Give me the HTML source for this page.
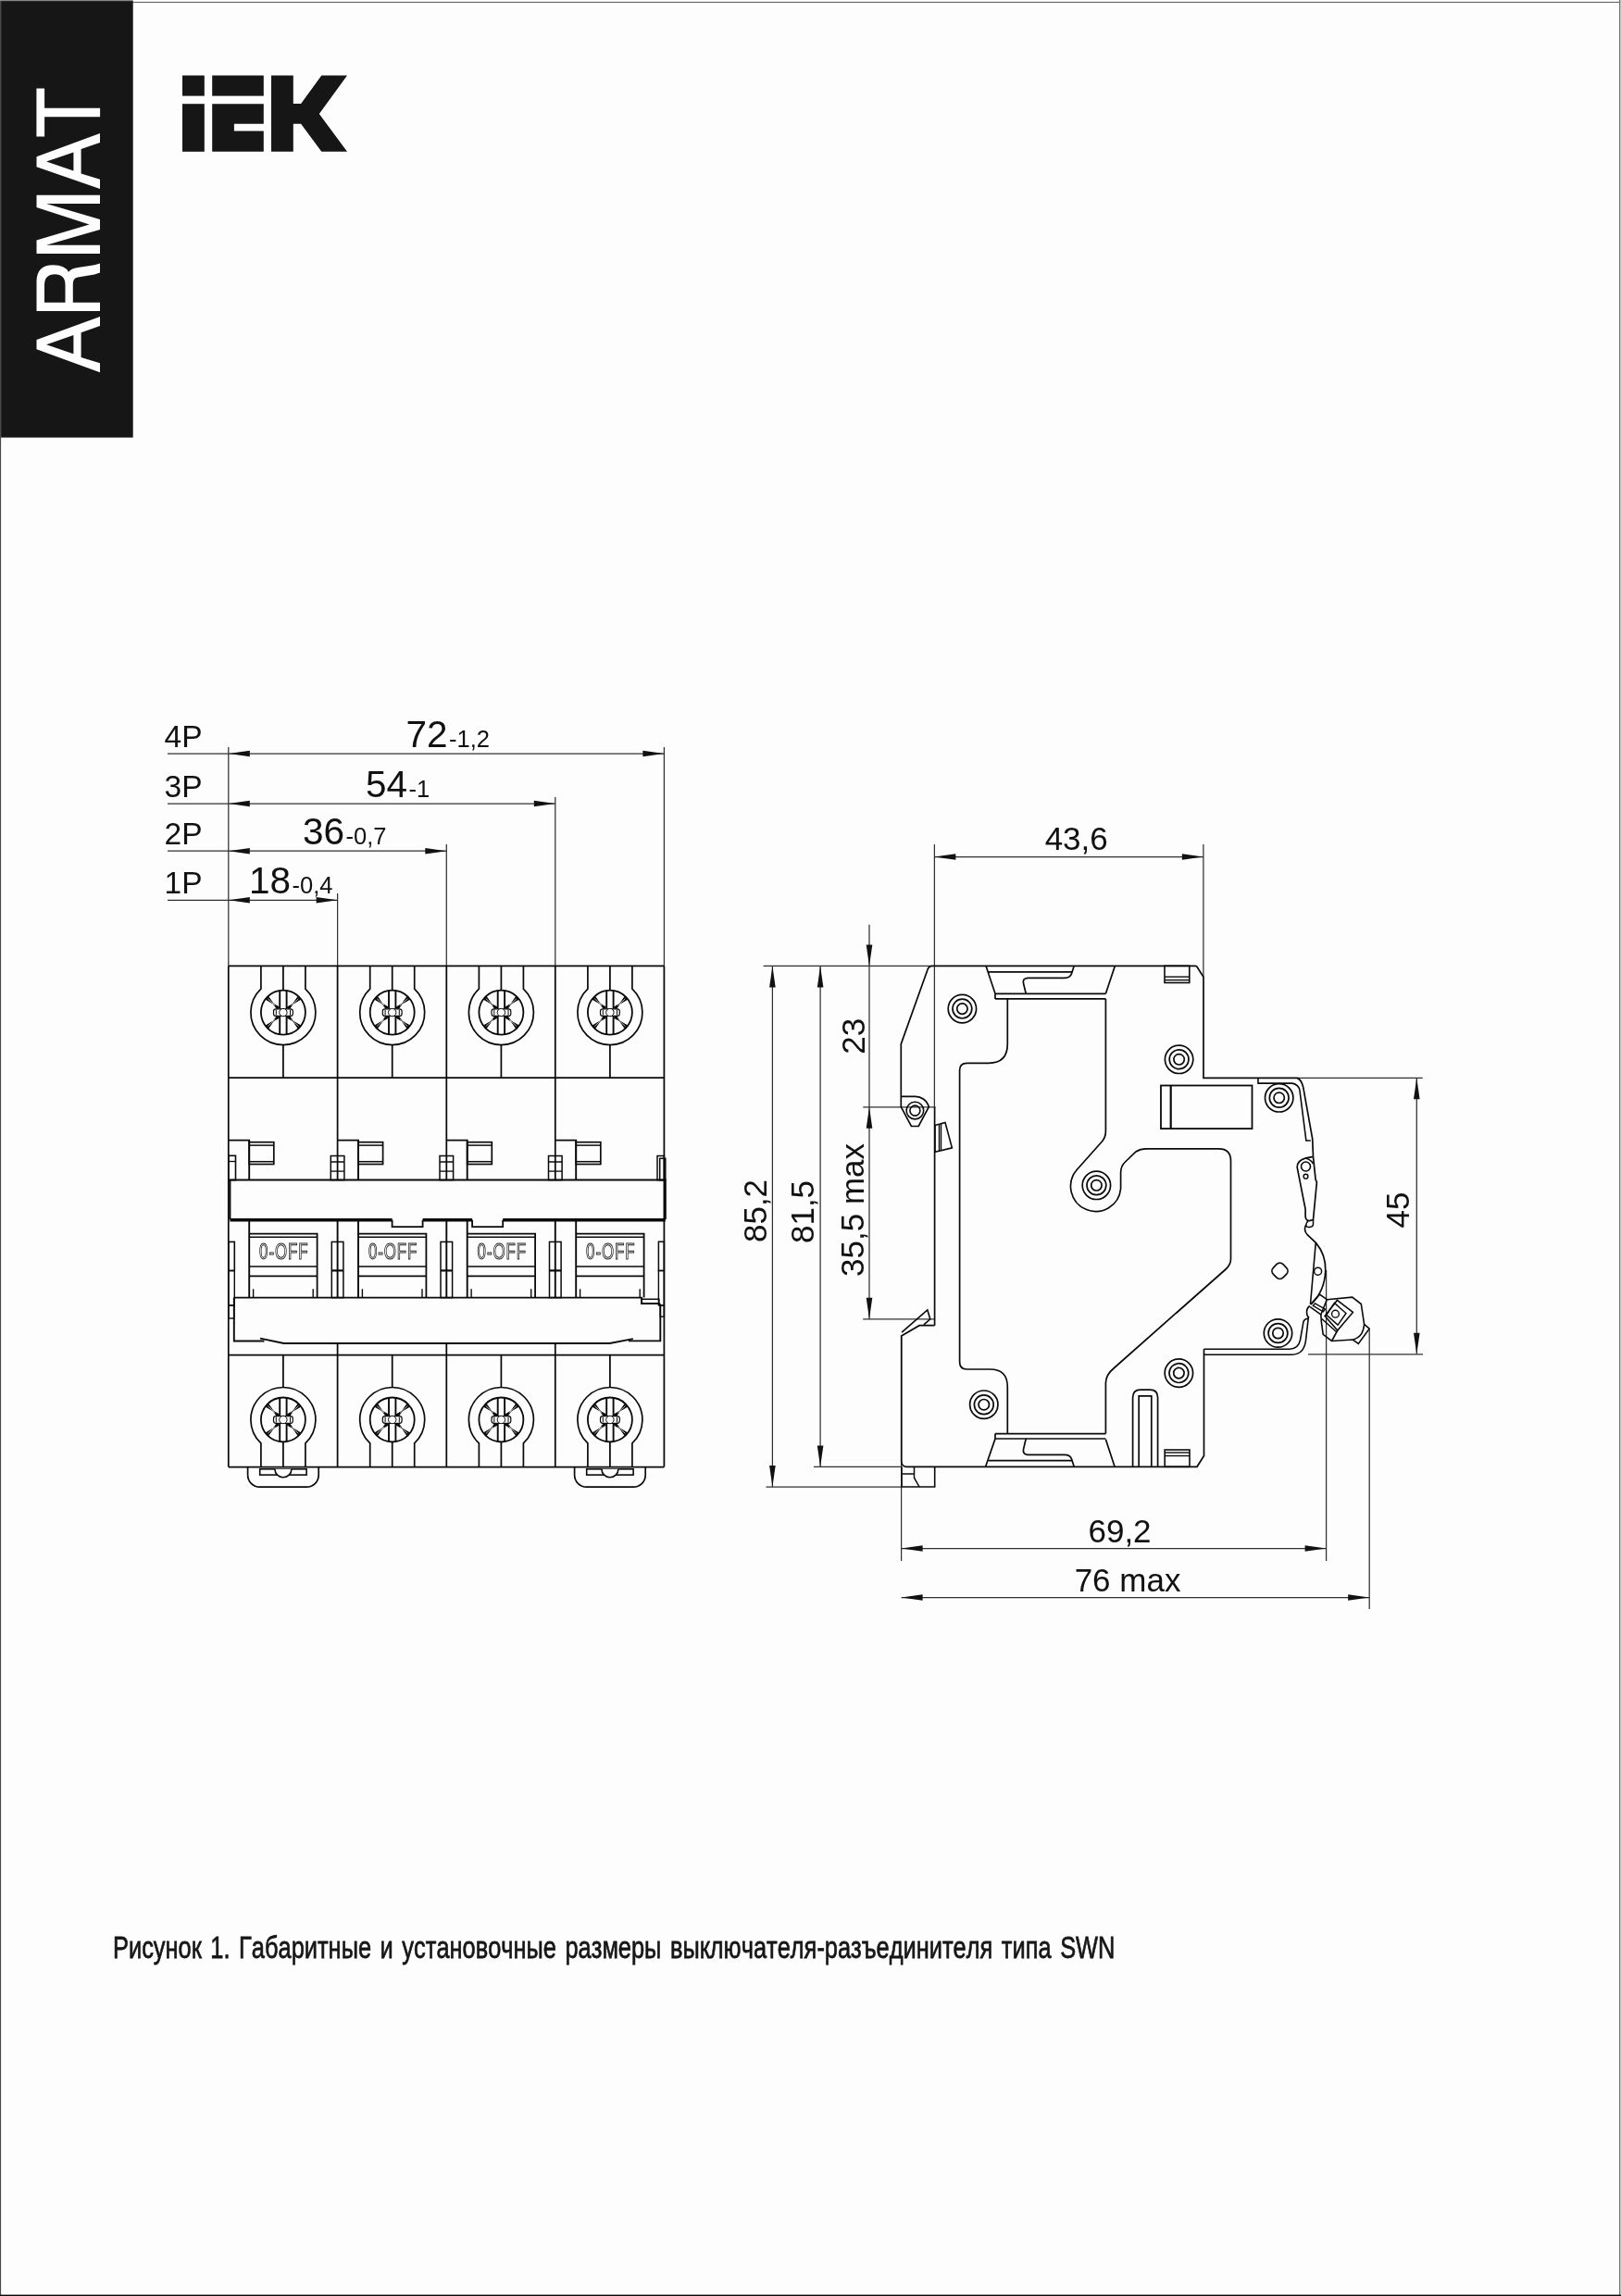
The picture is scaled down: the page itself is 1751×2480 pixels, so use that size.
<!DOCTYPE html>
<html><head><meta charset="utf-8"><style>
html,body{margin:0;padding:0;background:#fdfdfd;}
svg{display:block;font-family:"Liberation Sans",sans-serif;}
text{font-kerning:none;font-variant-ligatures:none;}
svg{will-change:transform;}
</style></head><body>
<svg width="1751" height="2480" viewBox="0 0 1751 2480">
<rect x="0" y="0" width="1751" height="2480" fill="#fdfdfd"/>
<rect x="0" y="1.9" width="1751" height="1.1" fill="#666"/>
<rect x="0" y="0" width="1.1" height="2480" fill="#4a4a4a"/>
<rect x="1749" y="0" width="1.2" height="2480" fill="#777"/>
<rect x="1750.2" y="0" width="0.8" height="2480" fill="#bbb"/>
<rect x="0" y="2478.6" width="1751" height="1.4" fill="#0a0a0a"/>
<rect x="0" y="0" width="143.7" height="1.1" fill="#888"/>
<rect x="1.1" y="1.1" width="142.6" height="471.5" fill="#161616"/>
<g aria-label="ARMAT"><title>ARMAT</title>
<path d="M39.5 366.9 L108 342 L108 352 L87.6 359.3 L87.6 385.9 L108 392.3 L108 402.3 L39.5 377.3 Z M50.1 372.2 L79.4 362.1 L79.4 382.2 Z" fill="#fdfdfd" fill-rule="evenodd"/>
<path d="M39.5 335.9 L108 335.9 L108 326.7 L78.8 326.7 L78.8 306.6 Q78.8 300.5 84 299.4 L102 296.6 L108 294.4 L108 284.6 L102 286.3 L84 288.9 Q76.5 290 73.9 293.8 Q70.5 286.2 57.4 286.2 Q39.5 286.2 39.5 304 Z M48 326.7 L70.5 326.7 L70.5 308 Q70.5 296.2 59.3 296.2 Q48 296.2 48 308 Z" fill="#fdfdfd" fill-rule="evenodd"/>
<path d="M39.5 274.1 L108 274.1 L108 264.7 L50.1 264.7 L108 247.9 L108 236.9 L50.1 219.9 L108 219.9 L108 210.7 L39.5 210.7 L39.5 224.1 L96.5 242.4 L39.5 259.5 Z" fill="#fdfdfd" fill-rule="evenodd"/>
<path d="M39.5 169.3 L108 144 L108 154 L87.6 161 L87.6 187.6 L108 193.7 L108 204 L39.5 180.2 Z M50.1 174.5 L79.4 164.4 L79.4 184.5 Z" fill="#fdfdfd" fill-rule="evenodd"/>
<path d="M39.4 95.5 L48.1 95.5 L48.1 116.7 L108.1 116.7 L108.1 126.2 L48.1 126.2 L48.1 147.4 L39.4 147.4 Z" fill="#fdfdfd" fill-rule="evenodd"/>
</g>
<g aria-label="IEK"><title>IEK</title>
<rect x="197" y="81.5" width="23.8" height="22.1" rx="0" stroke="#0a0a0a" stroke-width="0" fill="#161616"/>
<rect x="197" y="112.2" width="23.8" height="51.6" rx="0" stroke="#0a0a0a" stroke-width="0" fill="#161616"/>
<rect x="229.2" y="81.5" width="55.6" height="22.1" rx="0" stroke="#0a0a0a" stroke-width="0" fill="#161616"/>
<path d="M229.2 112.2 L284.8 112.2 L284.8 133.8 L252.9 133.8 L252.9 141.6 L284.8 141.6 L284.8 163.8 L229.2 163.8 Z" stroke="#0a0a0a" stroke-width="0" fill="#161616"/>
<path d="M293 81.5 L316.8 81.5 L316.8 112 L325.1 112 L347.3 81.5 L375 81.5 L344.8 123.1 L375 163.8 L347.3 163.8 L325.1 133.8 L316.8 133.8 L316.8 163.8 L293 163.8 Z" stroke="#0a0a0a" stroke-width="0" fill="#161616"/>
</g>
<text transform="translate(122 2115.2) scale(0.747561 1)" x="0" y="0" font-size="34" fill="#161616" stroke="#161616" stroke-width="0.75" word-spacing="3.344208">Рисунок 1. Габаритные и установочные размеры выключателя-разъединителя типа SWN</text>
<line x1="246.8" y1="807" x2="246.8" y2="1043" stroke="#303030" stroke-width="1.25"/>
<line x1="364.6" y1="965" x2="364.6" y2="1043" stroke="#303030" stroke-width="1.25"/>
<line x1="482.3" y1="912" x2="482.3" y2="1043" stroke="#303030" stroke-width="1.25"/>
<line x1="599.8" y1="861" x2="599.8" y2="1043" stroke="#303030" stroke-width="1.25"/>
<line x1="717.4" y1="807" x2="717.4" y2="1043" stroke="#303030" stroke-width="1.25"/>
<line x1="181" y1="814" x2="717.4" y2="814" stroke="#303030" stroke-width="1.25"/>
<path d="M246.8 814 L269.8 810.7 L269.8 817.3 Z" fill="#111"/>
<path d="M717.4 814 L694.4 817.3 L694.4 810.7 Z" fill="#111"/>
<line x1="181" y1="868" x2="599.8" y2="868" stroke="#303030" stroke-width="1.25"/>
<path d="M246.8 868 L269.8 864.7 L269.8 871.3 Z" fill="#111"/>
<path d="M599.8 868 L576.8 871.3 L576.8 864.7 Z" fill="#111"/>
<line x1="181" y1="919.2" x2="482.3" y2="919.2" stroke="#303030" stroke-width="1.25"/>
<path d="M246.8 919.2 L269.8 915.9 L269.8 922.5 Z" fill="#111"/>
<path d="M482.3 919.2 L459.3 922.5 L459.3 915.9 Z" fill="#111"/>
<line x1="181" y1="972.3" x2="364.6" y2="972.3" stroke="#303030" stroke-width="1.25"/>
<path d="M246.8 972.3 L269.8 969 L269.8 975.6 Z" fill="#111"/>
<path d="M364.6 972.3 L341.6 975.6 L341.6 969 Z" fill="#111"/>
<text transform="translate(177.5 807)" x="0" y="0" font-size="33.5" fill="#111">4P</text>
<text transform="translate(177.5 860.7)" x="0" y="0" font-size="33.5" fill="#111">3P</text>
<text transform="translate(177.5 912)" x="0" y="0" font-size="33.5" fill="#111">2P</text>
<text transform="translate(177.5 965)" x="0" y="0" font-size="33.5" fill="#111">1P</text>
<text transform="translate(438.5 807)" x="0" y="0" font-size="40.5" fill="#111">72</text>
<text transform="translate(485.05 807)" x="0" y="0" font-size="25.5" fill="#111">-1,2</text>
<text transform="translate(395 860.7)" x="0" y="0" font-size="40.5" fill="#111">54</text>
<text transform="translate(441.55 860.7)" x="0" y="0" font-size="25.5" fill="#111">-1</text>
<text transform="translate(327 912)" x="0" y="0" font-size="40.5" fill="#111">36</text>
<text transform="translate(373.55 912)" x="0" y="0" font-size="25.5" fill="#111">-0,7</text>
<text transform="translate(269 965)" x="0" y="0" font-size="40.5" fill="#111">18</text>
<text transform="translate(315.55 965)" x="0" y="0" font-size="25.5" fill="#111">-0,4</text>
<line x1="246.8" y1="1043.3" x2="246.8" y2="1584.5" stroke="#0a0a0a" stroke-width="1.75"/>
<line x1="717.4" y1="1043.3" x2="717.4" y2="1584.5" stroke="#0a0a0a" stroke-width="1.75"/>
<line x1="246.8" y1="1043.3" x2="717.4" y2="1043.3" stroke="#0a0a0a" stroke-width="1.75"/>
<line x1="246.8" y1="1164.2" x2="717.4" y2="1164.2" stroke="#0a0a0a" stroke-width="1.75"/>
<line x1="364.6" y1="1043.3" x2="364.6" y2="1274.6" stroke="#0a0a0a" stroke-width="1.75"/>
<line x1="482.3" y1="1043.3" x2="482.3" y2="1274.6" stroke="#0a0a0a" stroke-width="1.75"/>
<line x1="599.8" y1="1043.3" x2="599.8" y2="1274.6" stroke="#0a0a0a" stroke-width="1.75"/>
<path d="M281.9 1043.3 L281.9 1068.12 A35 35 0 1 0 329.9 1068.12 L329.9 1043.3" stroke="#0a0a0a" stroke-width="1.7" fill="none"/>
<line x1="305.9" y1="1043.3" x2="305.9" y2="1069.6" stroke="#0a0a0a" stroke-width="1.75"/>
<line x1="305.9" y1="1128.6" x2="305.9" y2="1164.2" stroke="#0a0a0a" stroke-width="1.75"/>
<circle cx="305.9" cy="1093.6" r="24" stroke="#0a0a0a" stroke-width="1.8" fill="none"/>
<line x1="302.2" y1="1070.1" x2="302.2" y2="1117.1" stroke="#0a0a0a" stroke-width="1.9"/>
<line x1="309.6" y1="1070.1" x2="309.6" y2="1117.1" stroke="#0a0a0a" stroke-width="1.9"/>
<path d="M286.69 1079.21 L301.7 1088 L299.3 1090 L289.58 1076 Z" stroke="#0a0a0a" stroke-width="1.0" fill="#0a0a0a"/>
<line x1="289.37" y1="1078.75" x2="297.41" y2="1086.15" stroke="#fdfdfd" stroke-width="0.7"/>
<path d="M286.69 1107.99 L301.7 1099.2 L299.3 1097.2 L289.58 1111.2 Z" stroke="#0a0a0a" stroke-width="1.0" fill="#0a0a0a"/>
<line x1="289.37" y1="1108.45" x2="297.41" y2="1101.05" stroke="#fdfdfd" stroke-width="0.7"/>
<path d="M325.11 1079.21 L310.1 1088 L312.5 1090 L322.22 1076 Z" stroke="#0a0a0a" stroke-width="1.0" fill="#0a0a0a"/>
<line x1="322.43" y1="1078.75" x2="314.39" y2="1086.15" stroke="#fdfdfd" stroke-width="0.7"/>
<path d="M325.11 1107.99 L310.1 1099.2 L312.5 1097.2 L322.22 1111.2 Z" stroke="#0a0a0a" stroke-width="1.0" fill="#0a0a0a"/>
<line x1="322.43" y1="1108.45" x2="314.39" y2="1101.05" stroke="#fdfdfd" stroke-width="0.7"/>
<rect x="295.5" y="1089.8" width="20.8" height="7.6" rx="2.5" stroke="#0a0a0a" stroke-width="1.2" fill="#fdfdfd"/>
<path d="M298.3 1090.6 L298.3 1096.6 M313.5 1090.6 L313.5 1096.6" stroke="#0a0a0a" stroke-width="1.0" fill="none"/>
<circle cx="305.9" cy="1093.6" r="4.2" stroke="#0a0a0a" stroke-width="1.0" fill="#fdfdfd"/>
<path d="M399.7 1043.3 L399.7 1068.12 A35 35 0 1 0 447.7 1068.12 L447.7 1043.3" stroke="#0a0a0a" stroke-width="1.7" fill="none"/>
<line x1="423.7" y1="1043.3" x2="423.7" y2="1069.6" stroke="#0a0a0a" stroke-width="1.75"/>
<line x1="423.7" y1="1128.6" x2="423.7" y2="1164.2" stroke="#0a0a0a" stroke-width="1.75"/>
<circle cx="423.7" cy="1093.6" r="24" stroke="#0a0a0a" stroke-width="1.8" fill="none"/>
<line x1="420" y1="1070.1" x2="420" y2="1117.1" stroke="#0a0a0a" stroke-width="1.9"/>
<line x1="427.4" y1="1070.1" x2="427.4" y2="1117.1" stroke="#0a0a0a" stroke-width="1.9"/>
<path d="M404.49 1079.21 L419.5 1088 L417.1 1090 L407.38 1076 Z" stroke="#0a0a0a" stroke-width="1.0" fill="#0a0a0a"/>
<line x1="407.17" y1="1078.75" x2="415.21" y2="1086.15" stroke="#fdfdfd" stroke-width="0.7"/>
<path d="M404.49 1107.99 L419.5 1099.2 L417.1 1097.2 L407.38 1111.2 Z" stroke="#0a0a0a" stroke-width="1.0" fill="#0a0a0a"/>
<line x1="407.17" y1="1108.45" x2="415.21" y2="1101.05" stroke="#fdfdfd" stroke-width="0.7"/>
<path d="M442.91 1079.21 L427.9 1088 L430.3 1090 L440.02 1076 Z" stroke="#0a0a0a" stroke-width="1.0" fill="#0a0a0a"/>
<line x1="440.23" y1="1078.75" x2="432.19" y2="1086.15" stroke="#fdfdfd" stroke-width="0.7"/>
<path d="M442.91 1107.99 L427.9 1099.2 L430.3 1097.2 L440.02 1111.2 Z" stroke="#0a0a0a" stroke-width="1.0" fill="#0a0a0a"/>
<line x1="440.23" y1="1108.45" x2="432.19" y2="1101.05" stroke="#fdfdfd" stroke-width="0.7"/>
<rect x="413.3" y="1089.8" width="20.8" height="7.6" rx="2.5" stroke="#0a0a0a" stroke-width="1.2" fill="#fdfdfd"/>
<path d="M416.1 1090.6 L416.1 1096.6 M431.3 1090.6 L431.3 1096.6" stroke="#0a0a0a" stroke-width="1.0" fill="none"/>
<circle cx="423.7" cy="1093.6" r="4.2" stroke="#0a0a0a" stroke-width="1.0" fill="#fdfdfd"/>
<path d="M517.4 1043.3 L517.4 1068.12 A35 35 0 1 0 565.4 1068.12 L565.4 1043.3" stroke="#0a0a0a" stroke-width="1.7" fill="none"/>
<line x1="541.4" y1="1043.3" x2="541.4" y2="1069.6" stroke="#0a0a0a" stroke-width="1.75"/>
<line x1="541.4" y1="1128.6" x2="541.4" y2="1164.2" stroke="#0a0a0a" stroke-width="1.75"/>
<circle cx="541.4" cy="1093.6" r="24" stroke="#0a0a0a" stroke-width="1.8" fill="none"/>
<line x1="537.7" y1="1070.1" x2="537.7" y2="1117.1" stroke="#0a0a0a" stroke-width="1.9"/>
<line x1="545.1" y1="1070.1" x2="545.1" y2="1117.1" stroke="#0a0a0a" stroke-width="1.9"/>
<path d="M522.19 1079.21 L537.2 1088 L534.8 1090 L525.08 1076 Z" stroke="#0a0a0a" stroke-width="1.0" fill="#0a0a0a"/>
<line x1="524.87" y1="1078.75" x2="532.91" y2="1086.15" stroke="#fdfdfd" stroke-width="0.7"/>
<path d="M522.19 1107.99 L537.2 1099.2 L534.8 1097.2 L525.08 1111.2 Z" stroke="#0a0a0a" stroke-width="1.0" fill="#0a0a0a"/>
<line x1="524.87" y1="1108.45" x2="532.91" y2="1101.05" stroke="#fdfdfd" stroke-width="0.7"/>
<path d="M560.61 1079.21 L545.6 1088 L548 1090 L557.72 1076 Z" stroke="#0a0a0a" stroke-width="1.0" fill="#0a0a0a"/>
<line x1="557.93" y1="1078.75" x2="549.89" y2="1086.15" stroke="#fdfdfd" stroke-width="0.7"/>
<path d="M560.61 1107.99 L545.6 1099.2 L548 1097.2 L557.72 1111.2 Z" stroke="#0a0a0a" stroke-width="1.0" fill="#0a0a0a"/>
<line x1="557.93" y1="1108.45" x2="549.89" y2="1101.05" stroke="#fdfdfd" stroke-width="0.7"/>
<rect x="531" y="1089.8" width="20.8" height="7.6" rx="2.5" stroke="#0a0a0a" stroke-width="1.2" fill="#fdfdfd"/>
<path d="M533.8 1090.6 L533.8 1096.6 M549 1090.6 L549 1096.6" stroke="#0a0a0a" stroke-width="1.0" fill="none"/>
<circle cx="541.4" cy="1093.6" r="4.2" stroke="#0a0a0a" stroke-width="1.0" fill="#fdfdfd"/>
<path d="M634.9 1043.3 L634.9 1068.12 A35 35 0 1 0 682.9 1068.12 L682.9 1043.3" stroke="#0a0a0a" stroke-width="1.7" fill="none"/>
<line x1="658.9" y1="1043.3" x2="658.9" y2="1069.6" stroke="#0a0a0a" stroke-width="1.75"/>
<line x1="658.9" y1="1128.6" x2="658.9" y2="1164.2" stroke="#0a0a0a" stroke-width="1.75"/>
<circle cx="658.9" cy="1093.6" r="24" stroke="#0a0a0a" stroke-width="1.8" fill="none"/>
<line x1="655.2" y1="1070.1" x2="655.2" y2="1117.1" stroke="#0a0a0a" stroke-width="1.9"/>
<line x1="662.6" y1="1070.1" x2="662.6" y2="1117.1" stroke="#0a0a0a" stroke-width="1.9"/>
<path d="M639.69 1079.21 L654.7 1088 L652.3 1090 L642.58 1076 Z" stroke="#0a0a0a" stroke-width="1.0" fill="#0a0a0a"/>
<line x1="642.37" y1="1078.75" x2="650.41" y2="1086.15" stroke="#fdfdfd" stroke-width="0.7"/>
<path d="M639.69 1107.99 L654.7 1099.2 L652.3 1097.2 L642.58 1111.2 Z" stroke="#0a0a0a" stroke-width="1.0" fill="#0a0a0a"/>
<line x1="642.37" y1="1108.45" x2="650.41" y2="1101.05" stroke="#fdfdfd" stroke-width="0.7"/>
<path d="M678.11 1079.21 L663.1 1088 L665.5 1090 L675.22 1076 Z" stroke="#0a0a0a" stroke-width="1.0" fill="#0a0a0a"/>
<line x1="675.43" y1="1078.75" x2="667.39" y2="1086.15" stroke="#fdfdfd" stroke-width="0.7"/>
<path d="M678.11 1107.99 L663.1 1099.2 L665.5 1097.2 L675.22 1111.2 Z" stroke="#0a0a0a" stroke-width="1.0" fill="#0a0a0a"/>
<line x1="675.43" y1="1108.45" x2="667.39" y2="1101.05" stroke="#fdfdfd" stroke-width="0.7"/>
<rect x="648.5" y="1089.8" width="20.8" height="7.6" rx="2.5" stroke="#0a0a0a" stroke-width="1.2" fill="#fdfdfd"/>
<path d="M651.3 1090.6 L651.3 1096.6 M666.5 1090.6 L666.5 1096.6" stroke="#0a0a0a" stroke-width="1.0" fill="none"/>
<circle cx="658.9" cy="1093.6" r="4.2" stroke="#0a0a0a" stroke-width="1.0" fill="#fdfdfd"/>
<path d="M246.8 1231.6 L269.2 1231.6 L269.2 1274.6" stroke="#0a0a0a" stroke-width="1.9" fill="none"/>
<rect x="269.2" y="1233.7" width="26.6" height="23.8" rx="0" stroke="#0a0a0a" stroke-width="1.7" fill="none"/>
<line x1="269.2" y1="1237.1" x2="295.8" y2="1237.1" stroke="#0a0a0a" stroke-width="1.5"/>
<line x1="269.2" y1="1254.7" x2="295.8" y2="1254.7" stroke="#0a0a0a" stroke-width="1.5"/>
<path d="M364.6 1231.6 L387 1231.6 L387 1274.6" stroke="#0a0a0a" stroke-width="1.9" fill="none"/>
<rect x="387" y="1233.7" width="26.6" height="23.8" rx="0" stroke="#0a0a0a" stroke-width="1.7" fill="none"/>
<line x1="387" y1="1237.1" x2="413.6" y2="1237.1" stroke="#0a0a0a" stroke-width="1.5"/>
<line x1="387" y1="1254.7" x2="413.6" y2="1254.7" stroke="#0a0a0a" stroke-width="1.5"/>
<rect x="357.3" y="1248.5" width="14.6" height="26.1" rx="0" stroke="#0a0a0a" stroke-width="1.5" fill="none"/>
<line x1="357.3" y1="1255" x2="371.9" y2="1255" stroke="#0a0a0a" stroke-width="1.5"/>
<line x1="357.3" y1="1265.1" x2="371.9" y2="1265.1" stroke="#0a0a0a" stroke-width="1.3"/>
<path d="M482.3 1231.6 L504.7 1231.6 L504.7 1274.6" stroke="#0a0a0a" stroke-width="1.9" fill="none"/>
<rect x="504.7" y="1233.7" width="26.6" height="23.8" rx="0" stroke="#0a0a0a" stroke-width="1.7" fill="none"/>
<line x1="504.7" y1="1237.1" x2="531.3" y2="1237.1" stroke="#0a0a0a" stroke-width="1.5"/>
<line x1="504.7" y1="1254.7" x2="531.3" y2="1254.7" stroke="#0a0a0a" stroke-width="1.5"/>
<rect x="475" y="1248.5" width="14.6" height="26.1" rx="0" stroke="#0a0a0a" stroke-width="1.5" fill="none"/>
<line x1="475" y1="1255" x2="489.6" y2="1255" stroke="#0a0a0a" stroke-width="1.5"/>
<line x1="475" y1="1265.1" x2="489.6" y2="1265.1" stroke="#0a0a0a" stroke-width="1.3"/>
<path d="M599.8 1231.6 L622.2 1231.6 L622.2 1274.6" stroke="#0a0a0a" stroke-width="1.9" fill="none"/>
<rect x="622.2" y="1233.7" width="26.6" height="23.8" rx="0" stroke="#0a0a0a" stroke-width="1.7" fill="none"/>
<line x1="622.2" y1="1237.1" x2="648.8" y2="1237.1" stroke="#0a0a0a" stroke-width="1.5"/>
<line x1="622.2" y1="1254.7" x2="648.8" y2="1254.7" stroke="#0a0a0a" stroke-width="1.5"/>
<rect x="592.5" y="1248.5" width="14.6" height="26.1" rx="0" stroke="#0a0a0a" stroke-width="1.5" fill="none"/>
<line x1="592.5" y1="1255" x2="607.1" y2="1255" stroke="#0a0a0a" stroke-width="1.5"/>
<line x1="592.5" y1="1265.1" x2="607.1" y2="1265.1" stroke="#0a0a0a" stroke-width="1.3"/>
<rect x="246.8" y="1248.3" width="7.7" height="26.3" rx="0" stroke="#0a0a0a" stroke-width="1.6" fill="none"/>
<line x1="246.8" y1="1254.5" x2="254.5" y2="1254.5" stroke="#0a0a0a" stroke-width="1.3"/>
<rect x="710" y="1248.5" width="7.4" height="26.1" rx="0" stroke="#0a0a0a" stroke-width="1.5" fill="none"/>
<rect x="712.7" y="1251.3" width="6.1" height="23.3" rx="0" stroke="#0a0a0a" stroke-width="1.5" fill="none"/>
<path d="M248.4 1317 L248.4 1274.6 L718.8 1274.6 L718.8 1317" stroke="#0a0a0a" stroke-width="2.0" fill="none"/>
<line x1="248.4" y1="1317" x2="423.6" y2="1317" stroke="#0a0a0a" stroke-width="2.0"/>
<line x1="456.6" y1="1317" x2="510.1" y2="1317" stroke="#0a0a0a" stroke-width="2.0"/>
<line x1="543.2" y1="1317" x2="718.8" y2="1317" stroke="#0a0a0a" stroke-width="2.0"/>
<path d="M248.4 1318.6 L423.6 1318.6 L423.6 1325.2 L456.6 1325.2 L456.6 1318.6 L510.1 1318.6 L510.1 1325.2 L543.2 1325.2 L543.2 1318.6 L718.8 1318.6" stroke="#0a0a0a" stroke-width="1.8" fill="none"/>
<line x1="269.2" y1="1318.6" x2="269.2" y2="1401.6" stroke="#0a0a0a" stroke-width="1.9"/>
<path d="M269.2 1332.7 L342.6 1332.7 L342.6 1401.6" stroke="#0a0a0a" stroke-width="1.8" fill="none"/>
<line x1="269.2" y1="1336.2" x2="342.6" y2="1336.2" stroke="#0a0a0a" stroke-width="1.6"/>
<line x1="269.2" y1="1368" x2="342.6" y2="1368" stroke="#0a0a0a" stroke-width="1.7"/>
<line x1="269.2" y1="1378.3" x2="342.6" y2="1378.3" stroke="#0a0a0a" stroke-width="1.7"/>
<line x1="273.6" y1="1392.3" x2="273.6" y2="1401.6" stroke="#0a0a0a" stroke-width="1.4"/>
<line x1="338.2" y1="1392.3" x2="338.2" y2="1401.6" stroke="#0a0a0a" stroke-width="1.4"/>
<text transform="translate(280.1 1359.6) scale(0.72 1)" x="0" y="0" font-size="23.5" fill="#fdfdfd" stroke="#222" stroke-width="1.0" letter-spacing="1.25">0-OFF</text>
<line x1="387" y1="1318.6" x2="387" y2="1401.6" stroke="#0a0a0a" stroke-width="1.9"/>
<path d="M387 1332.7 L460.4 1332.7 L460.4 1401.6" stroke="#0a0a0a" stroke-width="1.8" fill="none"/>
<line x1="387" y1="1336.2" x2="460.4" y2="1336.2" stroke="#0a0a0a" stroke-width="1.6"/>
<line x1="387" y1="1368" x2="460.4" y2="1368" stroke="#0a0a0a" stroke-width="1.7"/>
<line x1="387" y1="1378.3" x2="460.4" y2="1378.3" stroke="#0a0a0a" stroke-width="1.7"/>
<line x1="391.4" y1="1392.3" x2="391.4" y2="1401.6" stroke="#0a0a0a" stroke-width="1.4"/>
<line x1="456" y1="1392.3" x2="456" y2="1401.6" stroke="#0a0a0a" stroke-width="1.4"/>
<text transform="translate(397.9 1359.6) scale(0.72 1)" x="0" y="0" font-size="23.5" fill="#fdfdfd" stroke="#222" stroke-width="1.0" letter-spacing="1.25">0-OFF</text>
<line x1="364.6" y1="1318.6" x2="364.6" y2="1401.6" stroke="#0a0a0a" stroke-width="1.9"/>
<rect x="358.3" y="1341.4" width="12.6" height="60.2" rx="0" stroke="#0a0a0a" stroke-width="1.5" fill="none"/>
<line x1="358.3" y1="1372.4" x2="370.9" y2="1372.4" stroke="#0a0a0a" stroke-width="2.2"/>
<line x1="504.7" y1="1318.6" x2="504.7" y2="1401.6" stroke="#0a0a0a" stroke-width="1.9"/>
<path d="M504.7 1332.7 L578.1 1332.7 L578.1 1401.6" stroke="#0a0a0a" stroke-width="1.8" fill="none"/>
<line x1="504.7" y1="1336.2" x2="578.1" y2="1336.2" stroke="#0a0a0a" stroke-width="1.6"/>
<line x1="504.7" y1="1368" x2="578.1" y2="1368" stroke="#0a0a0a" stroke-width="1.7"/>
<line x1="504.7" y1="1378.3" x2="578.1" y2="1378.3" stroke="#0a0a0a" stroke-width="1.7"/>
<line x1="509.1" y1="1392.3" x2="509.1" y2="1401.6" stroke="#0a0a0a" stroke-width="1.4"/>
<line x1="573.7" y1="1392.3" x2="573.7" y2="1401.6" stroke="#0a0a0a" stroke-width="1.4"/>
<text transform="translate(515.6 1359.6) scale(0.72 1)" x="0" y="0" font-size="23.5" fill="#fdfdfd" stroke="#222" stroke-width="1.0" letter-spacing="1.25">0-OFF</text>
<line x1="482.3" y1="1318.6" x2="482.3" y2="1401.6" stroke="#0a0a0a" stroke-width="1.9"/>
<rect x="476" y="1341.4" width="12.6" height="60.2" rx="0" stroke="#0a0a0a" stroke-width="1.5" fill="none"/>
<line x1="476" y1="1372.4" x2="488.6" y2="1372.4" stroke="#0a0a0a" stroke-width="2.2"/>
<line x1="622.2" y1="1318.6" x2="622.2" y2="1401.6" stroke="#0a0a0a" stroke-width="1.9"/>
<path d="M622.2 1332.7 L695.6 1332.7 L695.6 1401.6" stroke="#0a0a0a" stroke-width="1.8" fill="none"/>
<line x1="622.2" y1="1336.2" x2="695.6" y2="1336.2" stroke="#0a0a0a" stroke-width="1.6"/>
<line x1="622.2" y1="1368" x2="695.6" y2="1368" stroke="#0a0a0a" stroke-width="1.7"/>
<line x1="622.2" y1="1378.3" x2="695.6" y2="1378.3" stroke="#0a0a0a" stroke-width="1.7"/>
<line x1="626.6" y1="1392.3" x2="626.6" y2="1401.6" stroke="#0a0a0a" stroke-width="1.4"/>
<line x1="691.2" y1="1392.3" x2="691.2" y2="1401.6" stroke="#0a0a0a" stroke-width="1.4"/>
<text transform="translate(633.1 1359.6) scale(0.72 1)" x="0" y="0" font-size="23.5" fill="#fdfdfd" stroke="#222" stroke-width="1.0" letter-spacing="1.25">0-OFF</text>
<line x1="599.8" y1="1318.6" x2="599.8" y2="1401.6" stroke="#0a0a0a" stroke-width="1.9"/>
<rect x="593.5" y="1341.4" width="12.6" height="60.2" rx="0" stroke="#0a0a0a" stroke-width="1.5" fill="none"/>
<line x1="593.5" y1="1372.4" x2="606.1" y2="1372.4" stroke="#0a0a0a" stroke-width="2.2"/>
<rect x="246.8" y="1341.4" width="6.5" height="31.1" rx="0" stroke="#0a0a0a" stroke-width="1.6" fill="none"/>
<rect x="246.8" y="1372.5" width="6.5" height="37.5" rx="0" stroke="#0a0a0a" stroke-width="1.4" fill="none"/>
<rect x="711.4" y="1341.2" width="6" height="31.3" rx="0" stroke="#0a0a0a" stroke-width="1.5" fill="none"/>
<rect x="711.4" y="1372.5" width="6" height="37.5" rx="0" stroke="#0a0a0a" stroke-width="1.4" fill="none"/>
<path d="M252.8 1401.6 L693 1401.6 L693 1408 L711 1408 Q713.3 1408.3 713.3 1410.5 L713.3 1448.4 L678.9 1448.4" stroke="#0a0a0a" stroke-width="1.9" fill="none"/>
<rect x="693.3" y="1403.3" width="18.6" height="4.7" rx="0" stroke="#0a0a0a" stroke-width="1.5" fill="none"/>
<path d="M252.8 1401.6 L252.8 1448.5 L285.4 1448.5" stroke="#0a0a0a" stroke-width="1.9" fill="none"/>
<path d="M281 1445.6 L306.6 1451 L658.6 1451 L683.8 1446.1" stroke="#0a0a0a" stroke-width="1.9" fill="none"/>
<rect x="246.8" y="1410" width="6" height="14" rx="0" stroke="#0a0a0a" stroke-width="1.4" fill="none"/>
<rect x="713.3" y="1410" width="4.1" height="12.2" rx="0" stroke="#0a0a0a" stroke-width="1.4" fill="none"/>
<line x1="246.8" y1="1463.5" x2="717.4" y2="1463.5" stroke="#0a0a0a" stroke-width="1.75"/>
<line x1="246.8" y1="1584.5" x2="717.4" y2="1584.5" stroke="#0a0a0a" stroke-width="1.75"/>
<line x1="364.6" y1="1451" x2="364.6" y2="1584.5" stroke="#0a0a0a" stroke-width="1.75"/>
<line x1="482.3" y1="1451" x2="482.3" y2="1584.5" stroke="#0a0a0a" stroke-width="1.75"/>
<line x1="599.8" y1="1451" x2="599.8" y2="1584.5" stroke="#0a0a0a" stroke-width="1.75"/>
<path d="M281.9 1584.5 L281.9 1558.98 A35 35 0 1 1 329.9 1558.98 L329.9 1584.5" stroke="#0a0a0a" stroke-width="1.7" fill="none"/>
<line x1="305.9" y1="1584.5" x2="305.9" y2="1557.5" stroke="#0a0a0a" stroke-width="1.75"/>
<line x1="305.9" y1="1498.5" x2="305.9" y2="1463.5" stroke="#0a0a0a" stroke-width="1.75"/>
<circle cx="305.9" cy="1533.5" r="24" stroke="#0a0a0a" stroke-width="1.8" fill="none"/>
<line x1="302.2" y1="1510" x2="302.2" y2="1557" stroke="#0a0a0a" stroke-width="1.9"/>
<line x1="309.6" y1="1510" x2="309.6" y2="1557" stroke="#0a0a0a" stroke-width="1.9"/>
<path d="M286.69 1519.11 L301.7 1527.9 L299.3 1529.9 L289.58 1515.9 Z" stroke="#0a0a0a" stroke-width="1.0" fill="#0a0a0a"/>
<line x1="289.37" y1="1518.65" x2="297.41" y2="1526.05" stroke="#fdfdfd" stroke-width="0.7"/>
<path d="M286.69 1547.89 L301.7 1539.1 L299.3 1537.1 L289.58 1551.1 Z" stroke="#0a0a0a" stroke-width="1.0" fill="#0a0a0a"/>
<line x1="289.37" y1="1548.35" x2="297.41" y2="1540.95" stroke="#fdfdfd" stroke-width="0.7"/>
<path d="M325.11 1519.11 L310.1 1527.9 L312.5 1529.9 L322.22 1515.9 Z" stroke="#0a0a0a" stroke-width="1.0" fill="#0a0a0a"/>
<line x1="322.43" y1="1518.65" x2="314.39" y2="1526.05" stroke="#fdfdfd" stroke-width="0.7"/>
<path d="M325.11 1547.89 L310.1 1539.1 L312.5 1537.1 L322.22 1551.1 Z" stroke="#0a0a0a" stroke-width="1.0" fill="#0a0a0a"/>
<line x1="322.43" y1="1548.35" x2="314.39" y2="1540.95" stroke="#fdfdfd" stroke-width="0.7"/>
<rect x="295.5" y="1529.7" width="20.8" height="7.6" rx="2.5" stroke="#0a0a0a" stroke-width="1.2" fill="#fdfdfd"/>
<path d="M298.3 1530.5 L298.3 1536.5 M313.5 1530.5 L313.5 1536.5" stroke="#0a0a0a" stroke-width="1.0" fill="none"/>
<circle cx="305.9" cy="1533.5" r="4.2" stroke="#0a0a0a" stroke-width="1.0" fill="#fdfdfd"/>
<path d="M399.7 1584.5 L399.7 1558.98 A35 35 0 1 1 447.7 1558.98 L447.7 1584.5" stroke="#0a0a0a" stroke-width="1.7" fill="none"/>
<line x1="423.7" y1="1584.5" x2="423.7" y2="1557.5" stroke="#0a0a0a" stroke-width="1.75"/>
<line x1="423.7" y1="1498.5" x2="423.7" y2="1463.5" stroke="#0a0a0a" stroke-width="1.75"/>
<circle cx="423.7" cy="1533.5" r="24" stroke="#0a0a0a" stroke-width="1.8" fill="none"/>
<line x1="420" y1="1510" x2="420" y2="1557" stroke="#0a0a0a" stroke-width="1.9"/>
<line x1="427.4" y1="1510" x2="427.4" y2="1557" stroke="#0a0a0a" stroke-width="1.9"/>
<path d="M404.49 1519.11 L419.5 1527.9 L417.1 1529.9 L407.38 1515.9 Z" stroke="#0a0a0a" stroke-width="1.0" fill="#0a0a0a"/>
<line x1="407.17" y1="1518.65" x2="415.21" y2="1526.05" stroke="#fdfdfd" stroke-width="0.7"/>
<path d="M404.49 1547.89 L419.5 1539.1 L417.1 1537.1 L407.38 1551.1 Z" stroke="#0a0a0a" stroke-width="1.0" fill="#0a0a0a"/>
<line x1="407.17" y1="1548.35" x2="415.21" y2="1540.95" stroke="#fdfdfd" stroke-width="0.7"/>
<path d="M442.91 1519.11 L427.9 1527.9 L430.3 1529.9 L440.02 1515.9 Z" stroke="#0a0a0a" stroke-width="1.0" fill="#0a0a0a"/>
<line x1="440.23" y1="1518.65" x2="432.19" y2="1526.05" stroke="#fdfdfd" stroke-width="0.7"/>
<path d="M442.91 1547.89 L427.9 1539.1 L430.3 1537.1 L440.02 1551.1 Z" stroke="#0a0a0a" stroke-width="1.0" fill="#0a0a0a"/>
<line x1="440.23" y1="1548.35" x2="432.19" y2="1540.95" stroke="#fdfdfd" stroke-width="0.7"/>
<rect x="413.3" y="1529.7" width="20.8" height="7.6" rx="2.5" stroke="#0a0a0a" stroke-width="1.2" fill="#fdfdfd"/>
<path d="M416.1 1530.5 L416.1 1536.5 M431.3 1530.5 L431.3 1536.5" stroke="#0a0a0a" stroke-width="1.0" fill="none"/>
<circle cx="423.7" cy="1533.5" r="4.2" stroke="#0a0a0a" stroke-width="1.0" fill="#fdfdfd"/>
<path d="M517.4 1584.5 L517.4 1558.98 A35 35 0 1 1 565.4 1558.98 L565.4 1584.5" stroke="#0a0a0a" stroke-width="1.7" fill="none"/>
<line x1="541.4" y1="1584.5" x2="541.4" y2="1557.5" stroke="#0a0a0a" stroke-width="1.75"/>
<line x1="541.4" y1="1498.5" x2="541.4" y2="1463.5" stroke="#0a0a0a" stroke-width="1.75"/>
<circle cx="541.4" cy="1533.5" r="24" stroke="#0a0a0a" stroke-width="1.8" fill="none"/>
<line x1="537.7" y1="1510" x2="537.7" y2="1557" stroke="#0a0a0a" stroke-width="1.9"/>
<line x1="545.1" y1="1510" x2="545.1" y2="1557" stroke="#0a0a0a" stroke-width="1.9"/>
<path d="M522.19 1519.11 L537.2 1527.9 L534.8 1529.9 L525.08 1515.9 Z" stroke="#0a0a0a" stroke-width="1.0" fill="#0a0a0a"/>
<line x1="524.87" y1="1518.65" x2="532.91" y2="1526.05" stroke="#fdfdfd" stroke-width="0.7"/>
<path d="M522.19 1547.89 L537.2 1539.1 L534.8 1537.1 L525.08 1551.1 Z" stroke="#0a0a0a" stroke-width="1.0" fill="#0a0a0a"/>
<line x1="524.87" y1="1548.35" x2="532.91" y2="1540.95" stroke="#fdfdfd" stroke-width="0.7"/>
<path d="M560.61 1519.11 L545.6 1527.9 L548 1529.9 L557.72 1515.9 Z" stroke="#0a0a0a" stroke-width="1.0" fill="#0a0a0a"/>
<line x1="557.93" y1="1518.65" x2="549.89" y2="1526.05" stroke="#fdfdfd" stroke-width="0.7"/>
<path d="M560.61 1547.89 L545.6 1539.1 L548 1537.1 L557.72 1551.1 Z" stroke="#0a0a0a" stroke-width="1.0" fill="#0a0a0a"/>
<line x1="557.93" y1="1548.35" x2="549.89" y2="1540.95" stroke="#fdfdfd" stroke-width="0.7"/>
<rect x="531" y="1529.7" width="20.8" height="7.6" rx="2.5" stroke="#0a0a0a" stroke-width="1.2" fill="#fdfdfd"/>
<path d="M533.8 1530.5 L533.8 1536.5 M549 1530.5 L549 1536.5" stroke="#0a0a0a" stroke-width="1.0" fill="none"/>
<circle cx="541.4" cy="1533.5" r="4.2" stroke="#0a0a0a" stroke-width="1.0" fill="#fdfdfd"/>
<path d="M634.9 1584.5 L634.9 1558.98 A35 35 0 1 1 682.9 1558.98 L682.9 1584.5" stroke="#0a0a0a" stroke-width="1.7" fill="none"/>
<line x1="658.9" y1="1584.5" x2="658.9" y2="1557.5" stroke="#0a0a0a" stroke-width="1.75"/>
<line x1="658.9" y1="1498.5" x2="658.9" y2="1463.5" stroke="#0a0a0a" stroke-width="1.75"/>
<circle cx="658.9" cy="1533.5" r="24" stroke="#0a0a0a" stroke-width="1.8" fill="none"/>
<line x1="655.2" y1="1510" x2="655.2" y2="1557" stroke="#0a0a0a" stroke-width="1.9"/>
<line x1="662.6" y1="1510" x2="662.6" y2="1557" stroke="#0a0a0a" stroke-width="1.9"/>
<path d="M639.69 1519.11 L654.7 1527.9 L652.3 1529.9 L642.58 1515.9 Z" stroke="#0a0a0a" stroke-width="1.0" fill="#0a0a0a"/>
<line x1="642.37" y1="1518.65" x2="650.41" y2="1526.05" stroke="#fdfdfd" stroke-width="0.7"/>
<path d="M639.69 1547.89 L654.7 1539.1 L652.3 1537.1 L642.58 1551.1 Z" stroke="#0a0a0a" stroke-width="1.0" fill="#0a0a0a"/>
<line x1="642.37" y1="1548.35" x2="650.41" y2="1540.95" stroke="#fdfdfd" stroke-width="0.7"/>
<path d="M678.11 1519.11 L663.1 1527.9 L665.5 1529.9 L675.22 1515.9 Z" stroke="#0a0a0a" stroke-width="1.0" fill="#0a0a0a"/>
<line x1="675.43" y1="1518.65" x2="667.39" y2="1526.05" stroke="#fdfdfd" stroke-width="0.7"/>
<path d="M678.11 1547.89 L663.1 1539.1 L665.5 1537.1 L675.22 1551.1 Z" stroke="#0a0a0a" stroke-width="1.0" fill="#0a0a0a"/>
<line x1="675.43" y1="1548.35" x2="667.39" y2="1540.95" stroke="#fdfdfd" stroke-width="0.7"/>
<rect x="648.5" y="1529.7" width="20.8" height="7.6" rx="2.5" stroke="#0a0a0a" stroke-width="1.2" fill="#fdfdfd"/>
<path d="M651.3 1530.5 L651.3 1536.5 M666.5 1530.5 L666.5 1536.5" stroke="#0a0a0a" stroke-width="1.0" fill="none"/>
<circle cx="658.9" cy="1533.5" r="4.2" stroke="#0a0a0a" stroke-width="1.0" fill="#fdfdfd"/>
<path d="M267.6 1584.5 L267.6 1593 A13 13 0 0 0 280.6 1606.2 L331.2 1606.2 A13 13 0 0 0 344.2 1593 L344.2 1584.5" stroke="#0a0a0a" stroke-width="1.7" fill="none"/>
<rect x="280.7" y="1586.8" width="50.4" height="6.3" rx="0" stroke="#0a0a0a" stroke-width="1.6" fill="none"/>
<path d="M296.9 1586.8 A9 9 0 0 0 314.9 1586.8" stroke="#0a0a0a" stroke-width="1.6" fill="#fdfdfd"/>
<path d="M620.6 1584.5 L620.6 1593 A13 13 0 0 0 633.6 1606.2 L684.2 1606.2 A13 13 0 0 0 697.2 1593 L697.2 1584.5" stroke="#0a0a0a" stroke-width="1.7" fill="none"/>
<rect x="633.7" y="1586.8" width="50.4" height="6.3" rx="0" stroke="#0a0a0a" stroke-width="1.6" fill="none"/>
<path d="M649.9 1586.8 A9 9 0 0 0 667.9 1586.8" stroke="#0a0a0a" stroke-width="1.6" fill="#fdfdfd"/>
<line x1="1009.4" y1="912" x2="1009.4" y2="1196" stroke="#303030" stroke-width="1.25"/>
<line x1="1299.9" y1="912" x2="1299.9" y2="1055" stroke="#303030" stroke-width="1.25"/>
<line x1="1009.4" y1="925.5" x2="1299.9" y2="925.5" stroke="#303030" stroke-width="1.25"/>
<path d="M1009.4 925.5 L1032.4 922.2 L1032.4 928.8 Z" fill="#111"/>
<path d="M1299.9 925.5 L1276.9 928.8 L1276.9 922.2 Z" fill="#111"/>
<text transform="translate(1162.7 917.5)" x="-34.060059" y="0" font-size="35" fill="#111">43,6</text>
<line x1="824.6" y1="1043.4" x2="1006" y2="1043.4" stroke="#303030" stroke-width="1.25"/>
<line x1="827.5" y1="1606" x2="974" y2="1606" stroke="#303030" stroke-width="1.25"/>
<line x1="879" y1="1584.4" x2="974" y2="1584.4" stroke="#303030" stroke-width="1.25"/>
<line x1="834.4" y1="1043.6" x2="834.4" y2="1606" stroke="#303030" stroke-width="1.25"/>
<path d="M834.4 1043.6 L837.7 1066.6 L831.1 1066.6 Z" fill="#111"/>
<path d="M834.4 1606 L831.1 1583 L837.7 1583 Z" fill="#111"/>
<line x1="886.1" y1="1043.6" x2="886.1" y2="1584.4" stroke="#303030" stroke-width="1.25"/>
<path d="M886.1 1043.6 L889.4 1066.6 L882.8 1066.6 Z" fill="#111"/>
<path d="M886.1 1584.4 L882.8 1561.4 L889.4 1561.4 Z" fill="#111"/>
<line x1="939" y1="998.8" x2="939" y2="1424.8" stroke="#303030" stroke-width="1.25"/>
<path d="M939 1043.6 L935.7 1020.6 L942.3 1020.6 Z" fill="#111"/>
<path d="M939 1195.8 L942.3 1218.8 L935.7 1218.8 Z" fill="#111"/>
<path d="M939 1424.8 L935.7 1401.8 L942.3 1401.8 Z" fill="#111"/>
<line x1="932.2" y1="1195.8" x2="1010.5" y2="1195.8" stroke="#303030" stroke-width="1.25"/>
<line x1="932.2" y1="1424.8" x2="1009.5" y2="1424.8" stroke="#303030" stroke-width="1.25"/>
<text transform="translate(828 1308) rotate(-90)" x="-34.060059" y="0" font-size="35" fill="#111">85,2</text>
<text transform="translate(878.9 1309) rotate(-90)" x="-34.060059" y="0" font-size="35" fill="#111">81,5</text>
<text transform="translate(933.9 1119.3) rotate(-90)" x="-19.465332" y="0" font-size="35" fill="#111">23</text>
<text transform="translate(932.5 1307) rotate(-90)" x="-71.982422" y="0" font-size="35" fill="#111">35,5 max</text>
<text transform="translate(1522.3 1307) rotate(-90)" x="-19.465332" y="0" font-size="35" fill="#111">45</text>
<line x1="973.6" y1="1443" x2="973.6" y2="1686" stroke="#303030" stroke-width="1.25"/>
<line x1="1432.6" y1="1372" x2="1432.6" y2="1686" stroke="#303030" stroke-width="1.25"/>
<line x1="1479.2" y1="1436" x2="1479.2" y2="1738" stroke="#303030" stroke-width="1.25"/>
<line x1="973.6" y1="1672.5" x2="1432.6" y2="1672.5" stroke="#303030" stroke-width="1.25"/>
<path d="M973.6 1672.5 L996.6 1669.2 L996.6 1675.8 Z" fill="#111"/>
<path d="M1432.6 1672.5 L1409.6 1675.8 L1409.6 1669.2 Z" fill="#111"/>
<line x1="973.6" y1="1725.5" x2="1479.2" y2="1725.5" stroke="#303030" stroke-width="1.25"/>
<path d="M973.6 1725.5 L996.6 1722.2 L996.6 1728.8 Z" fill="#111"/>
<path d="M1479.2 1725.5 L1456.2 1728.8 L1456.2 1722.2 Z" fill="#111"/>
<text transform="translate(1209.5 1666.4)" x="-34.060059" y="0" font-size="35" fill="#111">69,2</text>
<text transform="translate(1218 1719.4)" x="-57.387695" y="0" font-size="35" fill="#111">76 max</text>
<line x1="1401" y1="1164.3" x2="1536.7" y2="1164.3" stroke="#303030" stroke-width="1.25"/>
<line x1="1413" y1="1462.8" x2="1537" y2="1462.8" stroke="#303030" stroke-width="1.25"/>
<line x1="1530.3" y1="1164.3" x2="1530.3" y2="1462.8" stroke="#303030" stroke-width="1.25"/>
<path d="M1530.3 1164.3 L1533.6 1187.3 L1527 1187.3 Z" fill="#111"/>
<path d="M1530.3 1462.8 L1527 1439.8 L1533.6 1439.8 Z" fill="#111"/>
<path d="M1009.4 1043.3 L1006.6 1043.3 Q1003.5 1043.6 1002.2 1046.7 L973.3 1127.7 L973.3 1184.4 L987.8 1184.4 A15 15 0 0 1 1003.3 1195.6 L992.2 1216.5 L984.4 1216.5 L973.3 1195.6 L973.3 1184.4" stroke="#0a0a0a" stroke-width="1.7" fill="none"/>
<circle cx="988.4" cy="1199.6" r="9.3" stroke="#0a0a0a" stroke-width="1.6" fill="none"/>
<circle cx="988.4" cy="1199.6" r="5.5" stroke="#0a0a0a" stroke-width="1.6" fill="none"/>
<line x1="1009.4" y1="1043.3" x2="1292.3" y2="1043.3" stroke="#0a0a0a" stroke-width="1.7"/>
<path d="M1292.3 1043.3 L1300 1055.2 L1300 1164.4 L1401 1164.4 Q1406 1166 1407.8 1174.7 L1417.7 1230.2 L1418.5 1249.3" stroke="#0a0a0a" stroke-width="1.7" fill="none"/>
<line x1="1009.6" y1="1195.8" x2="1009.6" y2="1431.7" stroke="#0a0a0a" stroke-width="1.7"/>
<path d="M1010 1215.4 L1021 1212.5 L1028.4 1239.9 L1010 1244.3 Z" stroke="#0a0a0a" stroke-width="1.6" fill="none"/>
<line x1="1014.5" y1="1214.3" x2="1014.5" y2="1243.3" stroke="#0a0a0a" stroke-width="1.4"/>
<line x1="1016.5" y1="1213.8" x2="1016.5" y2="1242.8" stroke="#0a0a0a" stroke-width="1.4"/>
<path d="M1009.6 1431.7 L993.1 1431.7 L973.7 1443 L973.7 1578.5 Q974 1584.3 979.5 1584.3 L1293 1584.3 L1300.5 1572.4 L1300.5 1457.3" stroke="#0a0a0a" stroke-width="1.7" fill="none"/>
<path d="M974.1 1439.1 L1001.8 1414.9 L1004.8 1424.8 L997.9 1430.9" stroke="#0a0a0a" stroke-width="1.6" fill="none"/>
<path d="M974 1584.3 L974 1606 L1009.7 1606 L1009.7 1584.3" stroke="#0a0a0a" stroke-width="1.6" fill="none"/>
<path d="M974.5 1591.9 L987.5 1591.9 L987.5 1584.3 M987.5 1591.9 L987.5 1596.2 L993 1606" stroke="#0a0a0a" stroke-width="1.5" fill="none"/>
<path d="M1300.5 1457.3 L1393 1457.3 Q1402.5 1457 1404.5 1447.4 L1408 1427.6 Q1409 1424.5 1412.9 1424.2" stroke="#0a0a0a" stroke-width="1.6" fill="none"/>
<path d="M1300.5 1463.2 L1395.6 1463.2 Q1408.5 1463 1410.5 1448 L1413.4 1422.7" stroke="#0a0a0a" stroke-width="1.6" fill="none"/>
<path d="M1359 1164.4 L1359 1170.1 L1396 1170.1 Q1403 1171.5 1404 1178 L1410.9 1232 L1415.8 1232" stroke="#0a0a0a" stroke-width="1.6" fill="none"/>
<path d="M1065 1043.3 L1075 1073.3 L1075 1078.9 M1075 1073.3 L1194.4 1073.3 M1075 1078.9 L1194.4 1078.9 M1204.4 1043.3 L1194.4 1073.3" stroke="#0a0a0a" stroke-width="1.7" fill="none"/>
<path d="M1067.7 1049.9 L1158.3 1049.9 M1160.2 1043.3 L1157.6 1051.5 Q1156 1056.3 1150 1056.3 L1110 1056.3 Q1104.3 1056.8 1105.6 1062.5 L1108.2 1073.3" stroke="#0a0a0a" stroke-width="1.7" fill="none"/>
<path d="M1088.3 1078.9 L1088.3 1127.8 Q1088.3 1148.3 1068 1148.3 L1044.4 1148.3 Q1036.6 1148.3 1036.6 1156 L1036.6 1471 Q1036.6 1479 1044.4 1479 L1069.5 1479 Q1088.3 1479 1088.3 1498 L1088.3 1548.6" stroke="#0a0a0a" stroke-width="1.7" fill="none"/>
<path d="M1075 1548.6 L1194.4 1548.6 M1075 1554 L1194.4 1554 M1075 1548.6 L1075 1554 L1064.6 1584.3 M1194.4 1554.7 L1204.1 1584.3" stroke="#0a0a0a" stroke-width="1.7" fill="none"/>
<path d="M1067.7 1577.7 L1158.3 1577.7 M1160.2 1584.3 L1157.6 1576.1 Q1156 1571.3 1150 1571.3 L1110 1571.3 Q1104.3 1570.8 1105.6 1565.1 L1108.2 1554" stroke="#0a0a0a" stroke-width="1.7" fill="none"/>
<path d="M1194.4 1078.9 L1194.4 1222 Q1194.4 1229 1189.5 1234 L1163 1263.8 A27.1 27.1 0 1 0 1210.6 1284 L1210.6 1266.5 Q1210.6 1260 1215 1255.5 L1227 1244 Q1232 1240.9 1238 1240.9 L1316.5 1240.9 Q1329.5 1240.9 1329.5 1254 L1329.5 1360 Q1329.5 1366 1324 1371 L1203 1478 Q1194.4 1485 1194.4 1494 L1194.4 1548.6" stroke="#0a0a0a" stroke-width="1.7" fill="none"/>
<circle cx="1039.4" cy="1089.6" r="15.2" stroke="#0a0a0a" stroke-width="1.7" fill="none"/>
<circle cx="1039.4" cy="1089.6" r="10.4" stroke="#0a0a0a" stroke-width="1.7" fill="none"/>
<circle cx="1039.4" cy="1089.6" r="5.7" stroke="#0a0a0a" stroke-width="1.7" fill="none"/>
<circle cx="1273.6" cy="1144.3" r="15.2" stroke="#0a0a0a" stroke-width="1.7" fill="none"/>
<circle cx="1273.6" cy="1144.3" r="10.4" stroke="#0a0a0a" stroke-width="1.7" fill="none"/>
<circle cx="1273.6" cy="1144.3" r="5.7" stroke="#0a0a0a" stroke-width="1.7" fill="none"/>
<circle cx="1381.7" cy="1185.8" r="15.2" stroke="#0a0a0a" stroke-width="1.7" fill="none"/>
<circle cx="1381.7" cy="1185.8" r="10.4" stroke="#0a0a0a" stroke-width="1.7" fill="none"/>
<circle cx="1381.7" cy="1185.8" r="5.7" stroke="#0a0a0a" stroke-width="1.7" fill="none"/>
<circle cx="1380.5" cy="1440" r="15.2" stroke="#0a0a0a" stroke-width="1.7" fill="none"/>
<circle cx="1380.5" cy="1440" r="10.4" stroke="#0a0a0a" stroke-width="1.7" fill="none"/>
<circle cx="1380.5" cy="1440" r="5.7" stroke="#0a0a0a" stroke-width="1.7" fill="none"/>
<circle cx="1062.8" cy="1517.2" r="15.2" stroke="#0a0a0a" stroke-width="1.7" fill="none"/>
<circle cx="1062.8" cy="1517.2" r="10.4" stroke="#0a0a0a" stroke-width="1.7" fill="none"/>
<circle cx="1062.8" cy="1517.2" r="5.7" stroke="#0a0a0a" stroke-width="1.7" fill="none"/>
<circle cx="1184.4" cy="1280.3" r="15.2" stroke="#0a0a0a" stroke-width="1.7" fill="none"/>
<circle cx="1184.4" cy="1280.3" r="10.4" stroke="#0a0a0a" stroke-width="1.7" fill="none"/>
<circle cx="1184.4" cy="1280.3" r="5.7" stroke="#0a0a0a" stroke-width="1.7" fill="none"/>
<circle cx="1273.4" cy="1483.1" r="15.2" stroke="#0a0a0a" stroke-width="1.7" fill="none"/>
<circle cx="1273.4" cy="1483.1" r="10.4" stroke="#0a0a0a" stroke-width="1.7" fill="none"/>
<circle cx="1273.4" cy="1483.1" r="5.7" stroke="#0a0a0a" stroke-width="1.7" fill="none"/>
<rect x="1254" y="1172.5" width="98.5" height="46.6" rx="0" stroke="#0a0a0a" stroke-width="1.8" fill="none"/>
<line x1="1264.7" y1="1172.5" x2="1264.7" y2="1219.1" stroke="#0a0a0a" stroke-width="2.2"/>
<rect x="1258" y="1043.3" width="26.8" height="18.2" rx="0" stroke="#0a0a0a" stroke-width="1.6" fill="none"/>
<line x1="1258" y1="1055.1" x2="1284.8" y2="1055.1" stroke="#0a0a0a" stroke-width="1.4"/>
<line x1="1258" y1="1058.6" x2="1284.8" y2="1058.6" stroke="#0a0a0a" stroke-width="1.4"/>
<rect x="1258.2" y="1566" width="26.8" height="18.3" rx="0" stroke="#0a0a0a" stroke-width="1.6" fill="none"/>
<line x1="1258.2" y1="1569" x2="1285" y2="1569" stroke="#0a0a0a" stroke-width="1.4"/>
<line x1="1258.2" y1="1572.5" x2="1285" y2="1572.5" stroke="#0a0a0a" stroke-width="1.4"/>
<path d="M1223.6 1584.3 L1223.6 1509.5 Q1223.6 1501.1 1232 1501.1 L1242.2 1501.1 Q1250.6 1501.1 1250.6 1509.5 L1250.6 1584.3" stroke="#0a0a0a" stroke-width="1.7" fill="none"/>
<path d="M1230.2 1584.3 L1230.2 1507.9 L1243.8 1507.9 L1243.8 1584.3" stroke="#0a0a0a" stroke-width="1.7" fill="none"/>
<rect x="1375" y="1365.3" width="15" height="15" rx="5" transform="rotate(45 1382.5 1372.8)" stroke="#141414" stroke-width="1.8" fill="none"/>
<circle cx="1423.6" cy="1373.2" r="4" stroke="#0a0a0a" stroke-width="1.5" fill="none"/>
<path d="M1418.5 1249.3 L1410.5 1250.9 Q1401 1253.5 1401.2 1261 L1410.1 1306 L1410.1 1313.9 Q1410.5 1318.6 1414.3 1318.6 L1418.5 1317.5 L1422.4 1277 L1421.1 1274.1 L1418.5 1249.3" stroke="#0a0a0a" stroke-width="1.7" fill="none"/>
<path d="M1411 1251.2 Q1416 1252.5 1418.6 1257" stroke="#0a0a0a" stroke-width="1.5" fill="none"/>
<circle cx="1410.5" cy="1260" r="5" stroke="#0a0a0a" stroke-width="1.6" fill="none"/>
<circle cx="1410.5" cy="1270.7" r="2.4" stroke="#0a0a0a" stroke-width="1.4" fill="none"/>
<path d="M1413 1318.8 Q1410.8 1320.5 1410.8 1323 Q1411 1325.8 1414 1325.4 L1416.5 1325 Q1418.5 1324.5 1418.5 1322 L1418.5 1317.8" stroke="#0a0a0a" stroke-width="1.5" fill="none"/>
<path d="M1410.8 1323 Q1407.5 1328.5 1412.2 1333.7 L1421.6 1342.6 Q1432 1355 1431.8 1372 Q1431 1395 1416 1409" stroke="#0a0a0a" stroke-width="1.7" fill="none"/>
<line x1="1421.2" y1="1342.9" x2="1415.5" y2="1408.7" stroke="#0a0a0a" stroke-width="1.6"/>
<path d="M1415.5 1409 L1425.5 1398.1 L1433.3 1403.7" stroke="#0a0a0a" stroke-width="1.6" fill="none"/>
<path d="M1414.8 1410.5 Q1411 1413.5 1411.6 1418.5 Q1412 1422.5 1414.2 1423.2" stroke="#0a0a0a" stroke-width="1.6" fill="none"/>
<line x1="1415.2" y1="1411.6" x2="1427.4" y2="1420.3" stroke="#0a0a0a" stroke-width="1.6"/>
<path d="M1418.3 1410.3 L1420.5 1407.8 L1431.5 1414.2 L1429.3 1416.8 Z" stroke="#0a0a0a" stroke-width="1.4" fill="none"/>
<path d="M1433.3 1403.7 L1460.7 1401.1 L1470.3 1408.5 L1473.6 1430.3 L1479.2 1435.1 L1467.3 1451.4 L1461.4 1447 L1438.5 1448.5 L1429.2 1441.4 L1427.4 1428.1 L1426.8 1420 Z" stroke="#0a0a0a" stroke-width="1.6" fill="none"/>
<path d="M1473.6 1430.3 Q1472.5 1444.5 1461.4 1447" stroke="#0a0a0a" stroke-width="1.6" fill="none"/>
<path d="M1444.4 1404.4 L1461.4 1417.4 L1444.8 1437 L1431.1 1421.5 Z" stroke="#0a0a0a" stroke-width="1.6" fill="none"/>
<line x1="1427.8" y1="1424.5" x2="1443.8" y2="1438.8" stroke="#0a0a0a" stroke-width="1.5"/>
<line x1="1438.5" y1="1448.5" x2="1444.8" y2="1437" stroke="#0a0a0a" stroke-width="1.6"/>
<path d="M1441.4 1407.4 L1454 1418.5 L1445.1 1431.1 L1432.9 1420.3 Z" stroke="#0a0a0a" stroke-width="1.4" fill="none"/>
<circle cx="1442.5" cy="1419.2" r="3.9" stroke="#0a0a0a" stroke-width="1.4" fill="none"/>
</svg></body></html>
